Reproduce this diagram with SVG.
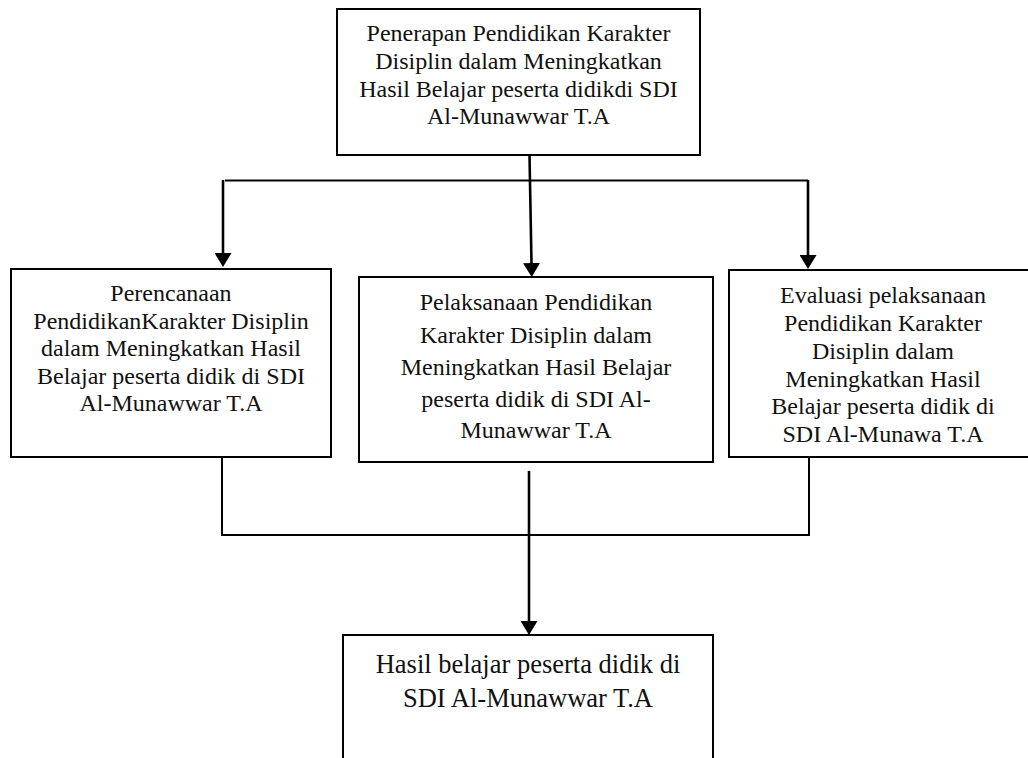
<svg xmlns="http://www.w3.org/2000/svg" width="1028" height="758" viewBox="0 0 1028 758">
<style>
.box{fill:#fff;stroke:#000;stroke-width:2}
.t{font-family:"Liberation Serif","Times New Roman",serif;font-size:24px;fill:#111;text-anchor:middle}
.tb{font-family:"Liberation Serif","Times New Roman",serif;font-size:26.5px;fill:#111;text-anchor:middle}
.v{stroke:#000;stroke-width:2.6;fill:none}
.h{stroke:#000;stroke-width:2;fill:none}
</style>
<defs>
<marker id="ah" markerUnits="userSpaceOnUse" markerWidth="14" markerHeight="17" viewBox="0 0 14 17" refX="0" refY="8.5" orient="auto">
<path d="M0,0 L14,8.5 L0,17 Z" fill="#000"/>
</marker>
</defs>
<rect width="1028" height="758" fill="#fff"/>
<g id="connectors">
<line class="v" x1="529.5" y1="155" x2="531.5" y2="263" marker-end="url(#ah)"/>
<line class="h" x1="225" y1="180.5" x2="808" y2="180.5"/>
<line class="v" x1="223" y1="180" x2="223" y2="253" marker-end="url(#ah)"/>
<line class="v" x1="808" y1="180" x2="808" y2="255" marker-end="url(#ah)"/>
<line class="h" x1="222" y1="457" x2="222" y2="535"/>
<line class="h" x1="809" y1="457" x2="809" y2="535"/>
<line class="h" x1="221" y1="535" x2="810" y2="535"/>
<line class="v" x1="529" y1="471" x2="529" y2="621" marker-end="url(#ah)"/>
</g>
<g id="top">
<rect class="box" x="337" y="9" width="363" height="146"/>
<text class="t" x="518.5" y="41">Penerapan Pendidikan Karakter</text>
<text class="t" x="518.5" y="68.5">Disiplin dalam Meningkatkan</text>
<text class="t" x="518.5" y="96.5">Hasil Belajar peserta didikdi SDI</text>
<text class="t" x="518.5" y="124">Al-Munawwar T.A</text>
</g>
<g id="perencanaan">
<rect class="box" x="11" y="269" width="320" height="188"/>
<text class="t" x="171" y="301">Perencanaan</text>
<text class="t" x="171" y="328.5">PendidikanKarakter Disiplin</text>
<text class="t" x="171" y="356">dalam Meningkatkan Hasil</text>
<text class="t" x="171" y="383.5">Belajar peserta didik di SDI</text>
<text class="t" x="171" y="411">Al-Munawwar T.A</text>
</g>
<g id="pelaksanaan">
<rect class="box" x="359" y="277" width="354" height="185"/>
<text class="t" x="536" y="310">Pelaksanaan Pendidikan</text>
<text class="t" x="536" y="342.5">Karakter Disiplin dalam</text>
<text class="t" x="536" y="375">Meningkatkan Hasil Belajar</text>
<text class="t" x="536" y="407">peserta didik di SDI Al-</text>
<text class="t" x="536" y="438">Munawwar T.A</text>
</g>
<g id="evaluasi">
<rect class="box" x="729" y="270" width="320" height="187"/>
<text class="t" x="883" y="303">Evaluasi pelaksanaan</text>
<text class="t" x="883" y="331">Pendidikan Karakter</text>
<text class="t" x="883" y="358.5">Disiplin dalam</text>
<text class="t" x="883" y="386.5">Meningkatkan Hasil</text>
<text class="t" x="883" y="414">Belajar peserta didik di</text>
<text class="t" x="883" y="442">SDI Al-Munawa T.A</text>
</g>
<g id="hasil">
<rect class="box" x="343" y="635" width="370" height="140"/>
<text class="tb" x="528" y="673">Hasil belajar peserta didik di</text>
<text class="tb" x="528" y="707">SDI Al-Munawwar T.A</text>
</g>
</svg>
